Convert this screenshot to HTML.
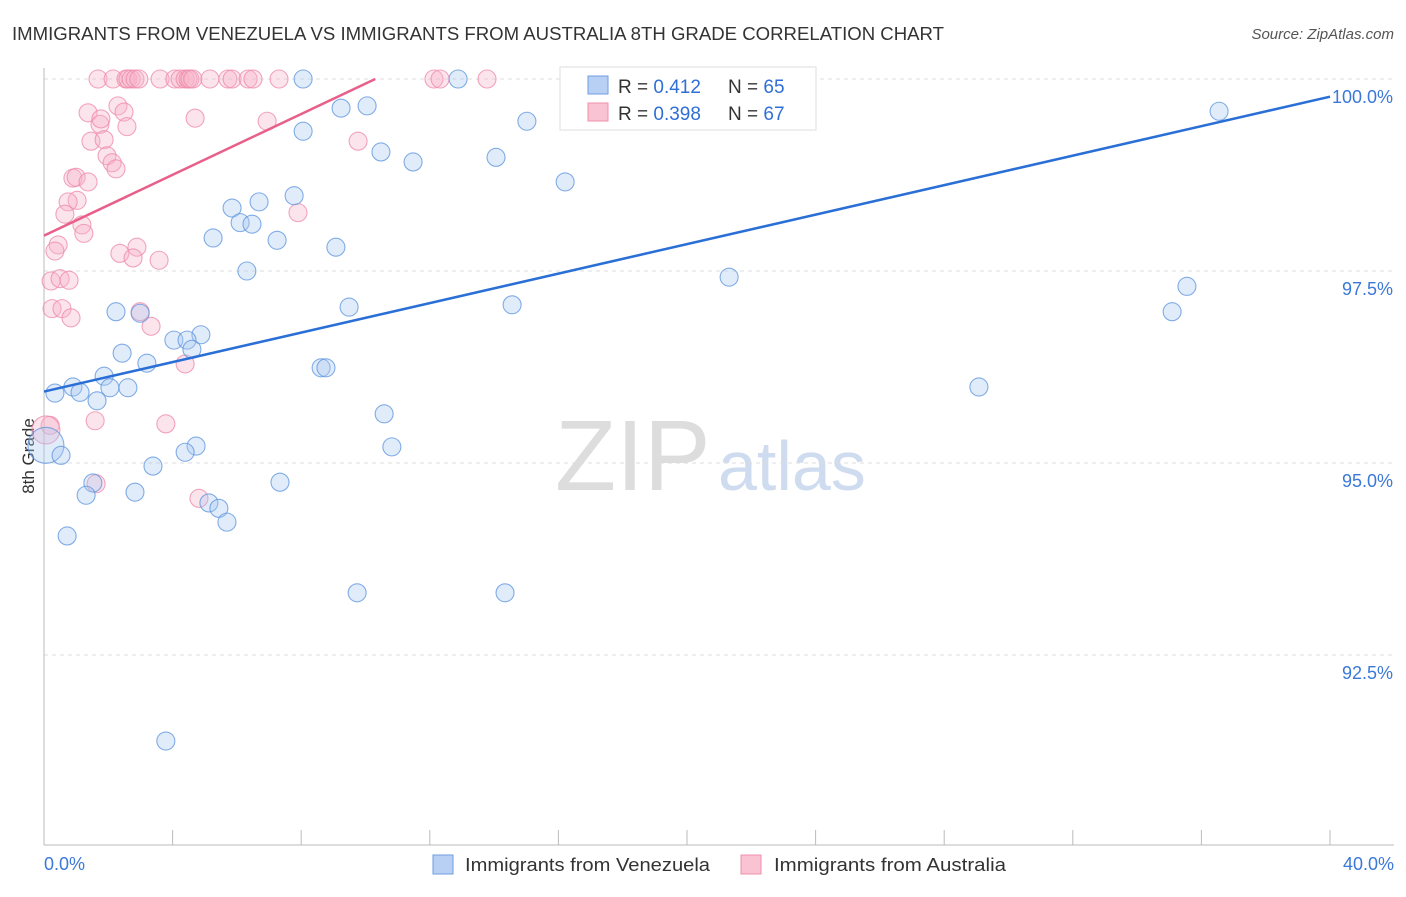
<!DOCTYPE html>
<html><head><meta charset="utf-8"><style>
body{margin:0;background:#fff;font-family:"Liberation Sans",sans-serif}
svg text{font-family:"Liberation Sans",sans-serif}
</style></head><body>
<svg id="c" width="1406" height="892">
<text x="12" y="40" font-size="18" fill="#333" textLength="932" lengthAdjust="spacingAndGlyphs">IMMIGRANTS FROM VENEZUELA VS IMMIGRANTS FROM AUSTRALIA 8TH GRADE CORRELATION CHART</text>
<text x="1394" y="39" font-size="15" fill="#555" text-anchor="end" font-style="italic">Source: ZipAtlas.com</text>
<text x="34" y="456" font-size="17" fill="#333" text-anchor="middle" transform="rotate(-90 34 456)">8th Grade</text>
<text x="555" y="490" font-size="100" fill="#ddd" font-family="Liberation Serif">ZIP</text>
<text x="718" y="490" font-size="70" fill="#cfdcf0">atlas</text>
<g id="grid"></g><g id="axes"></g><g id="pts"></g><g id="lines"></g>
<g>
<rect x="560" y="67" width="256" height="63" fill="#fff" stroke="#ddd"/>
<rect x="588" y="76" width="20" height="18" fill="#b8d0f3" stroke="#6f9de0"/>
<rect x="588" y="103" width="20" height="18" fill="#f9c3d3" stroke="#ee8fab"/>
<text x="618" y="93" font-size="19" fill="#333">R = <tspan fill="#2f6fd6">0.412</tspan></text>
<text x="728" y="93" font-size="19" fill="#333">N = <tspan fill="#2f6fd6">65</tspan></text>
<text x="618" y="120" font-size="19" fill="#333">R = <tspan fill="#2f6fd6">0.398</tspan></text>
<text x="728" y="120" font-size="19" fill="#333">N = <tspan fill="#2f6fd6">67</tspan></text>
</g>
<g>
<rect x="433" y="855" width="20" height="19" fill="#b8d0f3" stroke="#6f9de0"/>
<text x="465" y="871" font-size="18" fill="#333" textLength="245" lengthAdjust="spacingAndGlyphs">Immigrants from Venezuela</text></g>
<g>
<rect x="741" y="855" width="20" height="19" fill="#f9c3d3" stroke="#ee8fab"/>
<text x="774" y="871" font-size="18" fill="#333" textLength="232" lengthAdjust="spacingAndGlyphs">Immigrants from Australia</text></g>
</svg>
<script>
const yTicks=[100,97.5,95,92.5];
const yTickLabels=["100.0%","97.5%","95.0%","92.5%"];
const xTickLabels=["0.0%","40.0%"];
const blueX=[8.06,12.88,22.83,36.55,15.02,8.06,9.24,10.05,10.48,11.48,14.06,16.21,5.85,6.69,7.78,6.10,6.47,5.26,7.25,9.08,6.31,21.31,35.55,35.09,14.56,9.49,2.24,2.99,4.88,4.04,4.45,4.60,2.43,3.20,8.62,8.77,1.87,0.90,2.61,2.05,29.08,0.34,1.12,1.65,10.58,10.82,4.73,4.39,0.06,0.53,3.39,7.34,1.52,1.31,2.83,5.13,5.44,5.69,0.72,9.74,14.34,3.79];
const blueY=[100,100,100,99.58,99.45,99.32,99.62,99.65,99.05,98.92,98.98,98.66,98.32,98.40,98.48,98.13,98.11,97.93,97.90,97.81,97.50,97.42,97.30,96.97,97.06,97.03,96.97,96.95,96.67,96.60,96.60,96.48,96.43,96.30,96.24,96.24,96.13,95.99,95.98,95.98,95.99,95.91,95.92,95.81,95.64,95.21,95.22,95.14,95.23,95.10,94.96,94.75,94.74,94.58,94.62,94.48,94.41,94.23,94.05,93.31,93.31,91.38];
const pinkX=[1.68,2.15,2.55,2.61,2.71,2.83,2.95,3.61,4.07,4.23,4.39,4.48,4.54,4.63,5.16,5.72,5.85,6.35,6.50,7.31,12.13,12.32,13.78,1.37,1.46,2.30,2.49,1.74,1.77,1.87,2.58,1.96,2.12,2.24,4.70,6.94,9.77,0.90,1.00,1.37,1.03,0.75,0.65,1.18,1.24,7.90,0.44,0.34,2.36,2.89,2.77,3.58,0.22,0.50,0.78,0.25,0.56,0.84,2.99,3.33,4.39,1.59,3.79,0.19,0.06,1.62,4.82];
const pinkY=[100,100,100,100,100,100,100,100,100,100,100,100,100,100,100,100,100,100,100,100,100,100,100,99.56,99.19,99.65,99.57,99.41,99.48,99.21,99.38,99.00,98.91,98.83,99.49,99.45,99.19,98.71,98.72,98.66,98.42,98.40,98.24,98.10,97.99,98.26,97.84,97.76,97.73,97.81,97.67,97.64,97.37,97.40,97.38,97.01,97.01,96.89,96.97,96.78,96.29,95.55,95.51,95.49,95.43,94.73,94.54];
const blueTrend=[95.93,99.77];
const pinkTrend=[97.96,0.198];
const X=v=>44+v*1286/40, Y=v=>79+(100-v)*76.8;
const NS="http://www.w3.org/2000/svg";
function mk(p,t,a){const e=document.createElementNS(NS,t);for(const k in a)e.setAttribute(k,a[k]);p.appendChild(e);return e;}
const grid=document.getElementById('grid'),axes=document.getElementById('axes'),pts=document.getElementById('pts'),lines=document.getElementById('lines');
yTicks.forEach((t,i)=>{
 const l=mk(grid,'line',{x1:44,x2:1394,y1:Y(t),y2:Y(t),stroke:'#ddd','stroke-dasharray':'4,4'});
 
 
 const tx=mk(axes,'text',{x:1393,y:Y(t)+24,'font-size':18,fill:'#3b78d8','text-anchor':'end'});
 tx.textContent=yTickLabels[i];
 
 
});
const ya=mk(axes,'line',{x1:44,x2:44,y1:68,y2:845,stroke:'#bbb'});


const xa=mk(axes,'line',{x1:44,x2:1394,y1:845,y2:845,stroke:'#bbb'});


for(let i=0;i<=10;i++){const tk=mk(axes,'line',{x1:X(i*4),x2:X(i*4),y1:830,y2:845,stroke:'#bbb'});
 
 }
[[0,'start',44],[40,'end',1394]].forEach((d,i)=>{const t=mk(axes,'text',{x:d[2],y:870,'font-size':18,fill:'#3b78d8','text-anchor':d[1]});t.textContent=xTickLabels[i];
 
 });
function dots(xs,ys,fill,stroke,name){xs.forEach((x,i)=>{const big=(x<0.1&&ys[i]<96)?(name==='venezuela-point'?18:14):9;
 const c=mk(pts,'circle',{cx:X(x),cy:Y(ys[i]),r:big,fill:fill,'fill-opacity':0.35,stroke:stroke,'stroke-width':1.1,'stroke-opacity':0.75});
 
 });}
dots(pinkX,pinkY,'#f7b3c8','#ee88a8','australia-point');
dots(blueX,blueY,'#a9c8f0','#5b93dd','venezuela-point');
const bl=mk(lines,'line',{x1:X(0),y1:Y(blueTrend[0]),x2:X(40),y2:Y(blueTrend[1]),stroke:'#2a6fd6','stroke-width':2.5});


const xe=(100-pinkTrend[0])/pinkTrend[1];
const pl=mk(lines,'line',{x1:X(0),y1:Y(pinkTrend[0]),x2:X(xe),y2:Y(100),stroke:'#e8608a','stroke-width':2.5});


</script>
</body></html>
